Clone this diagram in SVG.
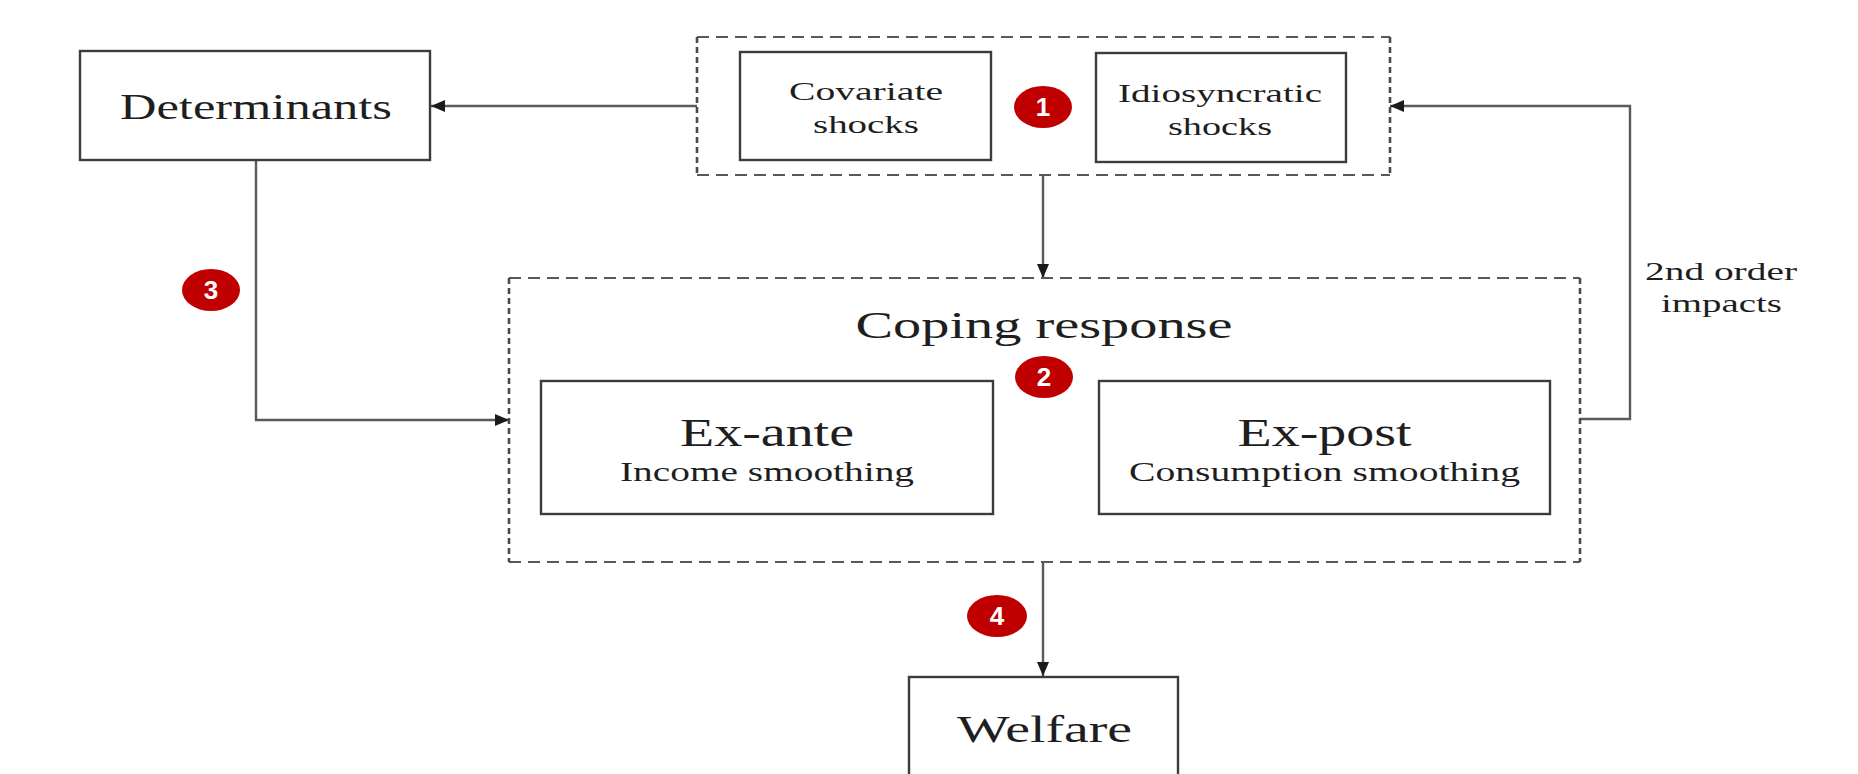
<svg xmlns="http://www.w3.org/2000/svg" width="1858" height="774" viewBox="0 0 1858 774">
<style>
.bg{fill:#ffffff}
.box{fill:#ffffff;stroke:#3c3c3c;stroke-width:2.4}
.dh{fill:none;stroke:#585858;stroke-width:2.2;stroke-dasharray:12 7}
.dv{fill:none;stroke:#4a4a4a;stroke-width:2.6;stroke-dasharray:6 4}
.conn{fill:none;stroke:#5a5a5a;stroke-width:2.4}
.t{font-family:"Liberation Serif","Times New Roman",serif;fill:#1e1e1e;text-anchor:middle}
.badge{fill:#c00000}
.bt{font-family:"Liberation Sans",Arial,sans-serif;font-size:26px;fill:#ffffff;text-anchor:middle;font-weight:bold}
</style>
<defs>
<marker id="arr" markerUnits="userSpaceOnUse" markerWidth="14" markerHeight="12" refX="14" refY="6" orient="auto">
<path d="M0,0 L14,6 L0,12 z" fill="#1a1a1a"/>
</marker>
</defs>
<rect class="bg" x="0" y="0" width="1858" height="774"/>

<g id="connectors">
<path class="conn" d="M697,106 H431" marker-end="url(#arr)"/>
<path class="conn" d="M1043,175 V278" marker-end="url(#arr)"/>
<path class="conn" d="M256,160 V420 H509" marker-end="url(#arr)"/>
<path class="conn" d="M1580,419 H1630 V106 H1390" marker-end="url(#arr)"/>
<path class="conn" d="M1043,562 V676" marker-end="url(#arr)"/>
</g>

<g id="shocks-group">
<path class="dh" d="M697,37 H1390 M697,175 H1390"/>
<path class="dv" d="M697,37 V175 M1390,37 V175"/>
</g>

<g id="determinants">
<rect class="box" x="80" y="51" width="350" height="109"/>
<text class="t" x="256" y="119" font-size="35" textLength="272" lengthAdjust="spacingAndGlyphs">Determinants</text>
</g>

<g id="covariate">
<rect class="box" x="740" y="52" width="251" height="108"/>
<text class="t" x="866" y="100" font-size="26" textLength="154" lengthAdjust="spacingAndGlyphs">Covariate</text>
<text class="t" x="866" y="133" font-size="26" textLength="106" lengthAdjust="spacingAndGlyphs">shocks</text>
</g>

<g id="idiosyncratic">
<rect class="box" x="1096" y="53" width="250" height="109"/>
<text class="t" x="1220" y="102" font-size="26" textLength="204" lengthAdjust="spacingAndGlyphs">Idiosyncratic</text>
<text class="t" x="1220" y="135" font-size="26" textLength="104" lengthAdjust="spacingAndGlyphs">shocks</text>
</g>

<g id="coping">
<path class="dh" d="M509,278 H1580 M509,562 H1580"/>
<path class="dv" d="M509,278 V562 M1580,278 V562"/>
<text class="t" x="1044" y="338" font-size="38" textLength="377" lengthAdjust="spacingAndGlyphs">Coping response</text>
</g>

<g id="ex-ante">
<rect class="box" x="541" y="381" width="452" height="133"/>
<text class="t" x="767" y="446" font-size="39" textLength="174" lengthAdjust="spacingAndGlyphs">Ex-ante</text>
<text class="t" x="767" y="481" font-size="27" textLength="294" lengthAdjust="spacingAndGlyphs">Income smoothing</text>
</g>

<g id="ex-post">
<rect class="box" x="1099" y="381" width="451" height="133"/>
<text class="t" x="1324.5" y="446" font-size="39" textLength="174" lengthAdjust="spacingAndGlyphs">Ex-post</text>
<text class="t" x="1324.5" y="481" font-size="27" textLength="391" lengthAdjust="spacingAndGlyphs">Consumption smoothing</text>
</g>

<g id="second-order-label">
<text class="t" x="1721" y="280" font-size="26" textLength="152" lengthAdjust="spacingAndGlyphs">2nd order</text>
<text class="t" x="1721.5" y="312" font-size="26" textLength="121" lengthAdjust="spacingAndGlyphs">impacts</text>
</g>

<g id="welfare">
<rect class="box" x="909" y="677" width="269" height="120"/>
<text class="t" x="1044.5" y="742" font-size="38" textLength="175" lengthAdjust="spacingAndGlyphs">Welfare</text>
</g>

<g id="badge-1">
<ellipse class="badge" cx="1043" cy="107" rx="29" ry="21"/>
<text class="bt" x="1043" y="116">1</text>
</g>
<g id="badge-2">
<ellipse class="badge" cx="1044" cy="377" rx="29" ry="21"/>
<text class="bt" x="1044" y="386">2</text>
</g>
<g id="badge-3">
<ellipse class="badge" cx="211" cy="290" rx="29" ry="21"/>
<text class="bt" x="211" y="299">3</text>
</g>
<g id="badge-4">
<ellipse class="badge" cx="997" cy="616" rx="30" ry="21"/>
<text class="bt" x="997" y="625">4</text>
</g>
</svg>
